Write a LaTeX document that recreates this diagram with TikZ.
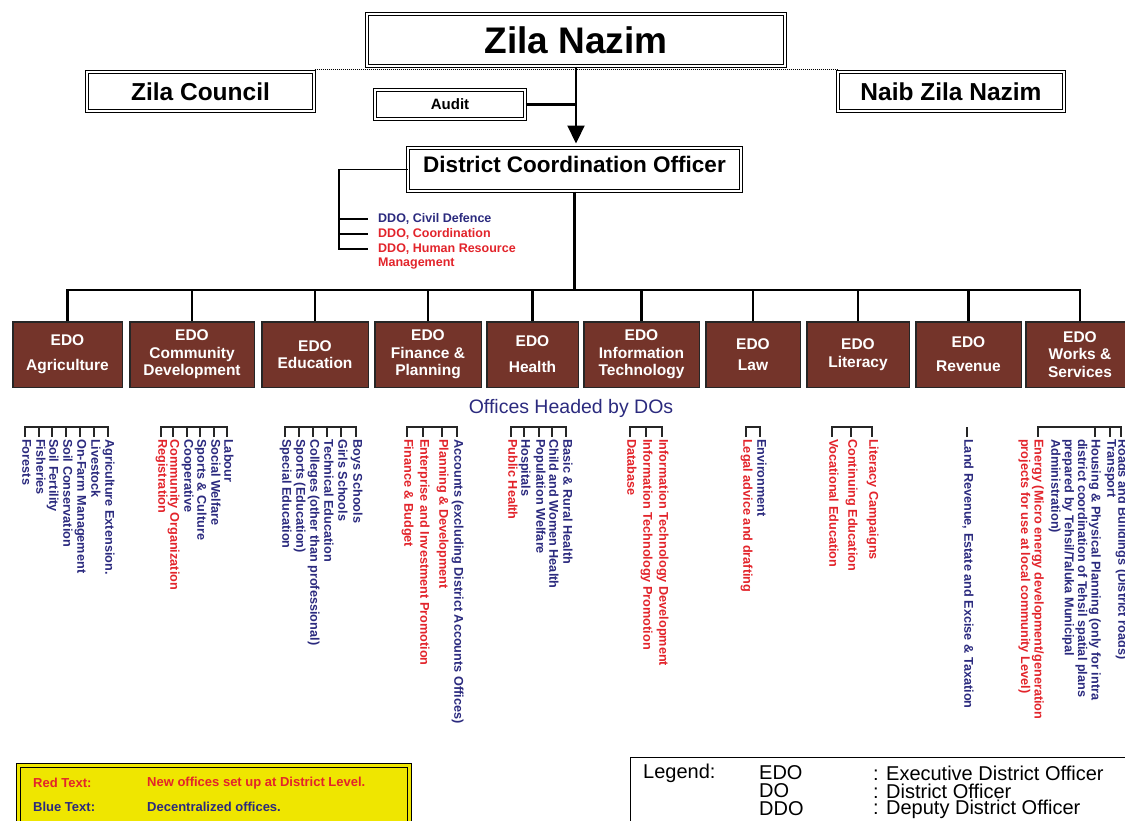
\documentclass[tikz,border=0pt]{standalone}
\usepackage{fontspec}
\setmainfont{Liberation Sans}
\usepackage{tikz}
\usetikzlibrary{positioning}
\usetikzlibrary{arrows.meta,calc}
\usepackage{xcolor}
\definecolor{edobrown}{HTML}{74342A}
\definecolor{dored}{HTML}{E2242B}
\definecolor{doblue}{HTML}{2B2A7E}
\definecolor{noteyellow}{HTML}{EFE600}
\pgfkeys{tikz/framebox/.style={draw=black, double=white, double distance=2pt, line width=1pt, inner sep=0pt}}
\pgfkeys{tikz/edobox/.style={draw=black!85, line width=1.5pt, fill=edobrown, text=white, align=center, inner sep=0pt, minimum height=65.5pt, font=\fontsize{15.5}{17.5}\selectfont\bfseries}}
\pgfkeys{tikz/office/.style={rotate=-90, anchor=mid west, inner sep=2pt, font=\fontsize{12.7}{13.4}\selectfont\bfseries}}
\pgfkeys{tikz/newoffice/.style={office, text=dored}}
\pgfkeys{tikz/decoffice/.style={office, text=doblue}}
\pgfkeys{tikz/bracket/.style={draw=black!85, line width=1.6pt}}
\pgfkeys{tikz/link/.style={draw=black, line width=2.2pt}}
\pgfkeys{tikz/ddolabel/.style={anchor=west, inner sep=0pt, font=\fontsize{12.5}{15}\selectfont\bfseries}}
\pgfkeys{tikz/notetext/.style={anchor=west, inner sep=0pt, font=\fontsize{13}{15}\selectfont\bfseries}}
\pgfkeys{tikz/legendtext/.style={anchor=west, inner sep=0pt, font=\fontsize{20}{18}\selectfont}}

\begin{document}
\begin{tikzpicture}[x=1pt,y=-1pt]
\useasboundingbox (0,0) rectangle (1125,820);

	\node[framebox, minimum width=418pt, minimum height=52pt, font=\fontsize{37}{40}\selectfont\bfseries] (nazim) at (576,40) {Zila Nazim};
	\node[framebox, minimum width=227pt, minimum height=39pt, font=\fontsize{24.5}{28}\selectfont\bfseries] (council) at (200.5,91.5) {Zila Council};
	\node[framebox, minimum width=226pt, minimum height=39pt, font=\fontsize{24.5}{28}\selectfont\bfseries] (naib) at (951,91.5) {Naib Zila Nazim};
	\node[framebox, minimum width=150pt, minimum height=29pt, font=\fontsize{15}{18}\selectfont\bfseries] (audit) at (450,104.5) {Audit};
	\node[framebox, minimum width=333pt, minimum height=43pt, text depth=10pt, font=\fontsize{22.5}{26}\selectfont\bfseries] (dco) at (574.5,169.5) {District Coordination Officer};

	\draw[densely dotted, line width=1pt] ([yshift=2.5pt]council.north east) -- ([yshift=2.5pt]naib.north west);
	\draw[link, -{Triangle[length=18pt,width=17pt]}, shorten >=4pt] (nazim.south) -- (nazim.south |- dco.north);
	\draw[link, line width=3.5pt] (audit.east) -- (audit.east -| nazim.south);

	\node[ddolabel, text=doblue] (ddo1) at (378,219) {DDO, Civil Defence};
	\node[ddolabel, text=dored] (ddo2) at (378,234) {DDO, Coordination};
	\node[ddolabel, text=dored] (ddo3) at (378,249) {DDO, Human Resource};
	\node[ddolabel, text=dored] (ddo3b) at (378,264) {Management};
	\coordinate (ddospine) at (339,169.5);
	\draw[link, line width=1.8pt] (dco.west) -- (ddospine) |- ([xshift=-10pt]ddo3.west);
	\draw[link, line width=1.8pt] (ddospine |- ddo1.west) -- ([xshift=-10pt]ddo1.west);
	\draw[link, line width=1.8pt] (ddospine |- ddo2.west) -- ([xshift=-10pt]ddo2.west);

	\node[edobox, minimum width=109.5pt] (agri) at (67.5,354.5) {EDO\\[7.5pt]Agriculture};
	\node[edobox, minimum width=124.5pt, right=6pt of agri] (comm) {EDO\\Community\\Development};
	\node[edobox, minimum width=106.5pt, right=6pt of comm] (edu) {EDO\\Education};
	\node[edobox, minimum width=106.5pt, right=5pt of edu] (fin) {EDO\\Finance \&\\Planning};
	\node[edobox, minimum width=91.5pt, right=4pt of fin] (health) {EDO\\[8.5pt]Health};
	\node[edobox, minimum width=115.5pt, right=4pt of health] (it) {EDO\\Information\\Technology};
	\node[edobox, minimum width=94.5pt, right=5pt of it] (law) {EDO\\[3.5pt]Law};
	\node[edobox, minimum width=102.5pt, right=5pt of law] (lit) {EDO\\Literacy};
	\node[edobox, minimum width=105.5pt, right=5pt of lit] (rev) {EDO\\[6.5pt]Revenue};
	\node[edobox, minimum width=108.5pt, right=3pt of rev] (works) {EDO\\Works \&\\Services};

	\coordinate (bus) at (574.5,290);
	\draw[link] (dco.south) -- (bus);
	\draw[link] (agri.north) |- (bus) -| (works.north);
	\draw[link] (comm.north) -- (comm.north |- bus);
	\draw[link] (edu.north) -- (edu.north |- bus);
	\draw[link] (fin.north) -- (fin.north |- bus);
	\draw[link] (health.north) -- (health.north |- bus);
	\draw[link] (it.north) -- (it.north |- bus);
	\draw[link] (law.north) -- (law.north |- bus);
	\draw[link] (lit.north) -- (lit.north |- bus);
	\draw[link] (rev.north) -- (rev.north |- bus);

	\node[text=doblue, font=\fontsize{19.5}{22}\selectfont] (headed) at (571,408) {Offices Headed by DOs};

	% agriculture
	\node[decoffice] (agri1) at (25,437) {Forests};
	\node[decoffice] (agri2) at (39,437) {Fisheries};
	\node[decoffice] (agri3) at (52,437) {Soil Fertility};
	\node[decoffice] (agri4) at (66,437) {Soil Conservation};
	\node[decoffice] (agri5) at (80,437) {On-Farm Management};
	\node[decoffice] (agri6) at (94,437) {Livestock};
	\node[decoffice] (agri7) at (108,437) {Agriculture Extension.};
	\draw[bracket] (agri1.mid west) -- ++(0,-10) -| (agri7.mid west) (agri2.mid west) -- ++(0,-10) (agri3.mid west) -- ++(0,-10) (agri4.mid west) -- ++(0,-10) (agri5.mid west) -- ++(0,-10) (agri6.mid west) -- ++(0,-10);

	% community development
	\node[newoffice] (comm1) at (161,437) {Registration};
	\node[newoffice] (comm2) at (173,437) {Community Organization};
	\node[decoffice] (comm3) at (187,437) {Cooperative};
	\node[decoffice] (comm4) at (200,437) {Sports \& Culture};
	\node[decoffice] (comm5) at (214,437) {Social Welfare};
	\node[decoffice] (comm6) at (227,437) {Labour};
	\draw[bracket] (comm1.mid west) -- ++(0,-10) -| (comm6.mid west) (comm2.mid west) -- ++(0,-10) (comm3.mid west) -- ++(0,-10) (comm4.mid west) -- ++(0,-10) (comm5.mid west) -- ++(0,-10);

	% education
	\node[decoffice] (edu1) at (285,437) {Special Education};
	\node[decoffice] (edu2) at (299,437) {Sports (Education)};
	\node[decoffice] (edu3) at (313,437) {Colleges (other than professional)};
	\node[decoffice] (edu4) at (327,437) {Technical Education};
	\node[decoffice] (edu5) at (341,437) {Girls Schools};
	\node[decoffice] (edu6) at (356,437) {Boys Schools};
	\draw[bracket] (edu1.mid west) -- ++(0,-10) -| (edu6.mid west) (edu2.mid west) -- ++(0,-10) (edu3.mid west) -- ++(0,-10) (edu4.mid west) -- ++(0,-10) (edu5.mid west) -- ++(0,-10);

	% finance & planning
	\node[newoffice] (fin1) at (407,437) {Finance \& Budget};
	\node[newoffice] (fin2) at (423,437) {Enterprise and Investment Promotion};
	\node[newoffice] (fin3) at (442,437) {Planning \& Development};
	\node[decoffice] (fin4) at (457,437) {Accounts (excluding District Accounts Offices)};
	\draw[bracket] (fin1.mid west) -- ++(0,-10) -| (fin4.mid west) (fin2.mid west) -- ++(0,-10) (fin3.mid west) -- ++(0,-10);

	% health
	\node[newoffice] (health1) at (511,437) {Public Health};
	\node[decoffice] (health2) at (524,437) {Hospitals};
	\node[decoffice] (health3) at (539,437) {Population Welfare};
	\node[decoffice] (health4) at (552,437) {Child and Women Health};
	\node[decoffice] (health5) at (566,437) {Basic \& Rural Health};
	\draw[bracket] (health1.mid west) -- ++(0,-10) -| (health5.mid west) (health2.mid west) -- ++(0,-10) (health3.mid west) -- ++(0,-10) (health4.mid west) -- ++(0,-10);

	% information technology
	\node[newoffice] (it1) at (630,437) {Database};
	\node[newoffice] (it2) at (646,437) {Information Technology Promotion};
	\node[newoffice] (it3) at (662,437) {Information Technology Development};
	\draw[bracket] (it1.mid west) -- ++(0,-10) -| (it3.mid west) (it2.mid west) -- ++(0,-10);

	% law
	\node[newoffice] (law1) at (746,437) {Legal advice and drafting};
	\node[decoffice] (law2) at (760,437) {Environment};
	\draw[bracket] (law1.mid west) -- ++(0,-10) -| (law2.mid west);

	% literacy
	\node[newoffice] (lit1) at (832,437) {Vocational Education};
	\node[newoffice] (lit2) at (851,437) {Continuing Education};
	\node[newoffice] (lit3) at (872,437) {Literacy Campaigns};
	\draw[bracket] (lit1.mid west) -- ++(0,-10) -| (lit3.mid west) (lit2.mid west) -- ++(0,-10);

	% revenue
	\node[decoffice] (rev1) at (967,437) {Land Revenue, Estate and Excise \& Taxation};
	\draw[bracket] (rev1.mid west) -- ++(0,-10);

	% works & services
	\node[newoffice, align=left, anchor=north west] (works1) at (1046,437) {Energy (Micro energy development/generation\\projects for use at local community Level)};
	\node[decoffice, align=left, anchor=north west] (works2) at (1103,437) {Housing \& Physical Planning (only for intra\\district coordination of Tehsil spatial plans\\prepared by Tehsil/Taluka Municipal\\Administration)};
	\node[decoffice] (works3) at (1110,437) {Transport};
	\node[decoffice] (works4) at (1121,437) {Roads and Buildings (District roads)};
	\draw[bracket] ([xshift=-8pt]works1.north west) -- ++(0,-10) -| (works4.mid west) ([xshift=-8pt]works2.north west) -- ++(0,-10) (works3.mid west) -- ++(0,-10);

	% colour key
	\node[draw=black, line width=1.2pt, double=noteyellow, double distance=2.5pt, fill=noteyellow, minimum width=391pt, minimum height=69pt] (note) at (214,800) {};
	\node[notetext, text=dored] (redkey) at (33,783) {Red Text:};
	\node[notetext, text=dored] (redmean) at (147,783) {New offices set up at District Level.};
	\node[notetext, text=doblue] (bluekey) at (33,807) {Blue Text:};
	\node[notetext, text=doblue] (bluemean) at (147,807) {Decentralized offices.};

	% legend
	\node[draw=black, line width=1pt, minimum width=510pt, minimum height=80pt] (legend) at (885,797) {};
	\node[legendtext] (legtitle) at (643,773) {Legend:};
	\node[legendtext] (legedo) at (759,773) {EDO};
	\node[legendtext] (legedox) at (873,773) {: Executive District Officer};
	\node[legendtext] (legdo) at (759,791) {DO};
	\node[legendtext] (legdox) at (873,791) {: District Officer};
	\node[legendtext] (legddo) at (759,809) {DDO};
	\node[legendtext] (legddox) at (873,809) {: Deputy District Officer};

\end{tikzpicture}
\end{document}
